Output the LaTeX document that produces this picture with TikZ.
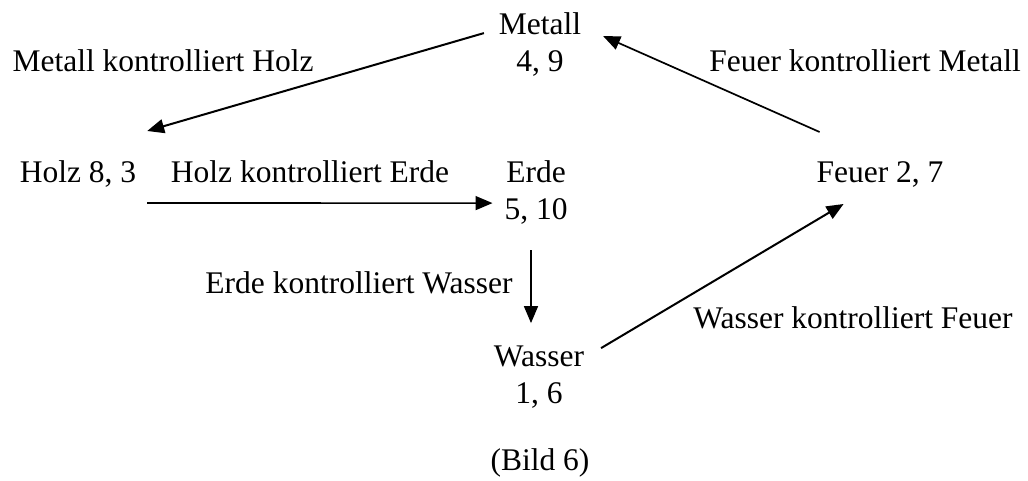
\documentclass[tikz,border=0pt]{standalone}
\usepackage{fontspec}
\setmainfont{Liberation Serif}
\usetikzlibrary{arrows.meta,calc}
% two centred lines whose baseline is the first line's
\newcommand\twolines[1]{\begin{tabular}[t]{@{}c@{}}#1\end{tabular}}
\begin{document}
\begin{tikzpicture}[x=1pt,y=-1pt,
  txt/.style={inner sep=0pt,outer sep=0pt,anchor=base,
    font=\fontsize{31.5}{37}\selectfont},
  single/.style={txt,text height=26pt,text depth=11pt},
  ctl/.style={-{Triangle[length=17pt,width=14pt]},line width=2pt}]
\useasboundingbox (0,0) rectangle (1028,481);

% the five elements
\node[txt] (metall) at (540,35)  {\twolines{Metall\\4, 9}};
\node[single] (holz)   at (78,183)  {Holz 8, 3};
\node[txt] (erde)   at (536,183) {\twolines{Erde\\5, 10}};
\node[single] (feuer)  at (880,183) {Feuer 2, 7};
\node[txt] (wasser) at (539,366) {\twolines{Wasser\\1, 6}};

% labels of the control cycle
\node[single] (mkh) at (163,72)  {Metall kontrolliert Holz};
\node[single] (fkm) at (865,72)  {Feuer kontrolliert Metall};
\node[single] (hke) at (310,183) {Holz kontrolliert Erde};
\node[single] (ekw) at (359,293) {Erde kontrolliert Wasser};
\node[single] (wkf) at (853,328) {Wasser kontrolliert Feuer};
\node[single] (bild) at (540,470) {(Bild 6)};

% control arrows
\draw[ctl] ($(metall.west)+(-15,-13)$) -- ($(holz.north east)+(11,-26)$);
\draw[ctl,line width=1.6pt] ($(holz.south east)+(11,9)$) -- ($(erde.west)+(-12,9)$);
\draw[ctl,line width=1.6pt] ($(erde.south)+(-5,19)$) -- ($(wasser.north)+(-8,-17)$);
\draw[ctl] ($(wasser.north east)+(17,8)$) -- ($(feuer.south west)+(27,10)$);
\draw[ctl,line width=1.7pt] ($(feuer.north west)+(3,-25)$) -- ($(metall.east)+(22,-10)$);
\end{tikzpicture}
\end{document}
